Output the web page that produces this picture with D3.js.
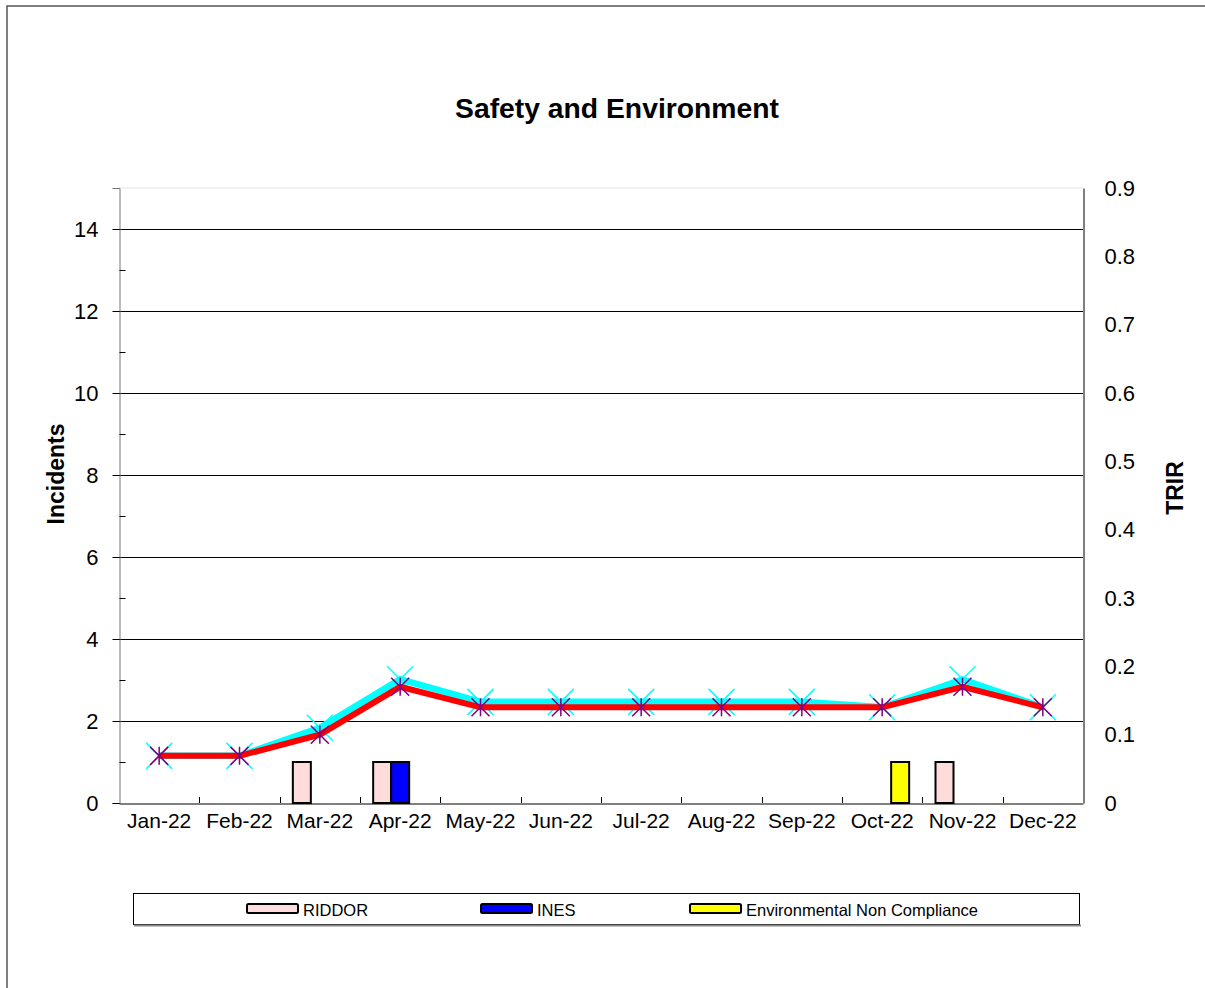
<!DOCTYPE html>
<html><head><meta charset="utf-8">
<script src="https://cdn.jsdelivr.net/npm/d3@7"></script>
<style>
html,body{margin:0;padding:0;background:#fff;}
svg text{font-family:"Liberation Sans",Arial,sans-serif;fill:#000;}
</style></head>
<body><svg id="c" width="1205" height="988"></svg>
<script>
const months = ["Jan-22","Feb-22","Mar-22","Apr-22","May-22","Jun-22","Jul-22","Aug-22","Sep-22","Oct-22","Nov-22","Dec-22"];
const barSeries = ["RIDDOR","INES","Environmental Non Compliance"];
const riddor = [0,0,1,1,0,0,0,0,0,0,1,0];
const ines   = [0,0,0,1,0,0,0,0,0,0,0,0];
const envNC  = [0,0,0,0,0,0,0,0,0,1,0,0];
const trirCyan = [0.069,0.069,0.11,0.181,0.148,0.148,0.148,0.148,0.148,0.14,0.181,0.14];
const trirRed  = [0.069,0.069,0.10,0.17,0.14,0.14,0.14,0.14,0.14,0.14,0.17,0.14];
const leftTicks = [0,2,4,6,8,10,12,14];
const leftMinor = [1,3,5,7,9,11,13,15];
const rightTicks = [0,0.1,0.2,0.3,0.4,0.5,0.6,0.7,0.8,0.9];
const colors = {"RIDDOR":"#FFDCDC","INES":"#0000FF","Environmental Non Compliance":"#FFFF00"};

const svg = d3.select("#c");
const L=119, R=1083, T=188, B=803;

// outer border
svg.append("rect").attr("x",7).attr("y",6).attr("width",1300).attr("height",1100)
  .attr("fill","none").attr("stroke","#555").attr("stroke-width",1.5);

const x = d3.scaleBand().domain(months).range([L,R]).padding(0);
const bw = x.bandwidth();
const groupW = bw*0.672;
const x1 = d3.scaleBand().domain(barSeries).range([(bw-groupW)/2,(bw+groupW)/2]).padding(0);
const yL = d3.scaleLinear().domain([0,15]).range([B,T]);
const yR = d3.scaleLinear().domain([0,0.9]).range([B,T]);

// title
svg.append("text").attr("x",617).attr("y",118).attr("text-anchor","middle")
  .style("font-size","28.3px").style("font-weight","bold").text("Safety and Environment");

// plot top border (light)
svg.append("line").attr("x1",L).attr("x2",R).attr("y1",T).attr("y2",T).attr("stroke","#e4e4e4").attr("stroke-width",1);

// gridlines
svg.append("g").selectAll("line").data(leftTicks.filter(d=>d>0)).join("line")
  .attr("x1",L).attr("x2",R).attr("y1",d=>Math.round(yL(d))+0.5).attr("y2",d=>Math.round(yL(d))+0.5)
  .attr("stroke","#000").attr("stroke-width",1);

// left axis
const gl = svg.append("g").attr("transform",`translate(${L+0.5},0)`)
  .call(d3.axisLeft(yL).tickValues(leftTicks).tickSize(7).tickPadding(14).tickFormat(d3.format("d")));
gl.select(".domain").attr("stroke","#777");
gl.selectAll(".tick line").attr("stroke","#000");
gl.selectAll("text").style("font-size","22px").attr("fill","#000");
const glm = svg.append("g").attr("transform",`translate(${L+0.5},0)`)
  .call(d3.axisLeft(yL).tickValues(leftMinor.filter(d=>d<15)).tickSize(-6).tickFormat(""));
glm.select(".domain").remove();
glm.selectAll(".tick line").attr("stroke","#000");

// right axis
const gr = svg.append("g").attr("transform",`translate(${R+0.5},0)`)
  .call(d3.axisRight(yR).tickValues(rightTicks).tickSize(0).tickPadding(21).tickFormat(d=>d===0?"0":d3.format(".1f")(d)));
gr.select(".domain").attr("stroke","#000");
gr.selectAll("text").style("font-size","22px").attr("fill","#000");

// bottom axis
const gb = svg.append("g").attr("transform",`translate(0,${B+0.5})`)
  .call(d3.axisBottom(x).tickSize(0).tickPadding(10));
gb.select(".domain").attr("stroke","#000");
gb.selectAll("text").style("font-size","21px").attr("fill","#000");
svg.append("g").selectAll("line").data(months.slice(1)).join("line")
  .attr("x1",d=>Math.round(x(d))+0.5).attr("x2",d=>Math.round(x(d))+0.5)
  .attr("y1",B).attr("y2",B-6).attr("stroke","#000");

// axis titles
svg.append("text").attr("transform","translate(64,474) rotate(-90)").attr("text-anchor","middle")
  .style("font-size","23px").style("font-weight","bold").text("Incidents");
svg.append("text").attr("transform","translate(1183,488) rotate(-90)").attr("text-anchor","middle")
  .style("font-size","23px").style("font-weight","bold").text("TRIR");

// bars
const barData = [];
months.forEach((m,i)=>{
  [[barSeries[0],riddor[i]],[barSeries[1],ines[i]],[barSeries[2],envNC[i]]].forEach(([s,v])=>{
    if(v>0) barData.push({m,s,v});
  });
});
svg.append("g").selectAll("rect").data(barData).join("rect")
  .attr("x",d=>x(d.m)+x1(d.s)).attr("width",x1.bandwidth())
  .attr("y",d=>yL(d.v)).attr("height",d=>yL(0)-yL(d.v))
  .attr("fill",d=>colors[d.s]).attr("stroke","#000").attr("stroke-width",2);

// lines
const cx = d=>x(d)+bw/2;
const lineR = d3.line().x((d,i)=>cx(months[i])).y(d=>yR(d));
svg.append("path").datum(trirCyan).attr("d",lineR).attr("fill","none")
  .attr("stroke","#00FFFF").attr("stroke-width",6.5).attr("stroke-linejoin","miter");
const cm = svg.append("g").selectAll("path").data(trirCyan).join("path")
  .attr("d",(d,i)=>{const X=cx(months[i]),Y=yR(d),s=13;return `M${X-s},${Y-s}L${X+s},${Y+s}M${X-s},${Y+s}L${X+s},${Y-s}`;})
  .attr("stroke","#00FFFF").attr("stroke-width",1.5).attr("fill","none");
svg.append("path").datum(trirRed).attr("d",lineR).attr("fill","none")
  .attr("stroke","#FF0000").attr("stroke-width",6).attr("stroke-linejoin","miter");
svg.append("g").selectAll("path").data(trirRed).join("path")
  .attr("d",(d,i)=>{const X=cx(months[i]),Y=yR(d),s=9;return `M${X-s},${Y-s}L${X+s},${Y+s}M${X-s},${Y+s}L${X+s},${Y-s}M${X},${Y-s}L${X},${Y+s}`;})
  .attr("stroke","#800080").attr("stroke-width",1.5).attr("fill","none");

// legend
const lg = svg.append("g");
lg.append("rect").attr("x",133.5).attr("y",893.5).attr("width",946).attr("height",31)
  .attr("fill","#fff").attr("stroke","#000").attr("stroke-width",1);
lg.append("line").attr("x1",134).attr("x2",1081).attr("y1",925.5).attr("y2",925.5).attr("stroke","#888").attr("stroke-width",2);
const legX = [247,481,690];
barSeries.forEach((s,i)=>{
  lg.append("rect").attr("x",legX[i]).attr("y",904).attr("width",51).attr("height",9).attr("rx",1.5)
    .attr("fill",colors[s]).attr("stroke","#000").attr("stroke-width",2);
  lg.append("text").attr("x",legX[i]+56).attr("y",915.5).style("font-size","16.5px").text(s);
});
</script></body></html>
